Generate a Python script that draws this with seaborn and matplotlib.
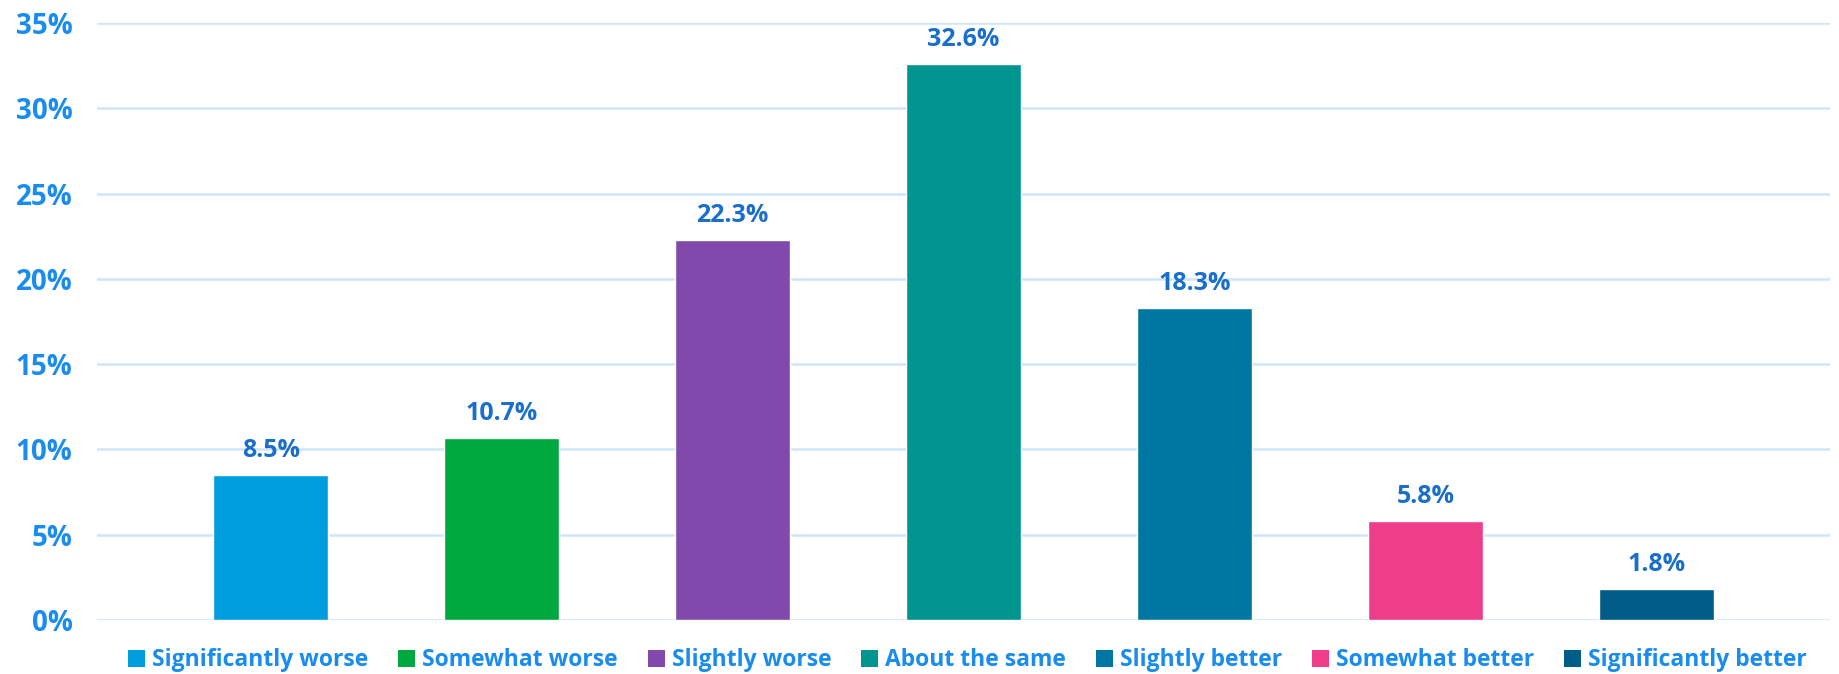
import matplotlib
matplotlib.use("Agg")
import matplotlib.pyplot as plt
import seaborn as sns
import pandas as pd
from matplotlib.patches import Patch

categories = ["Significantly worse", "Somewhat worse", "Slightly worse", "About the same",
              "Slightly better", "Somewhat better", "Significantly better"]
values = [8.5, 10.7, 22.3, 32.6, 18.3, 5.8, 1.8]
colors = ["#009ddf", "#00a940", "#8149ab", "#00968f", "#0077a3", "#ee3e8a", "#005d87"]
yticks = [0, 5, 10, 15, 20, 25, 30, 35]
ytick_labels = ["0%", "5%", "10%", "15%", "20%", "25%", "30%", "35%"]

sns.set_theme(style="white")
plt.rcParams['font.family'] = ['Open Sans', 'DejaVu Sans']

df = pd.DataFrame({"cat": categories, "val": values})

fig = plt.figure(figsize=(18.39, 6.74), dpi=100)
ax = fig.add_axes([0.0530, 0.080, 0.9420, 0.886])

sns.barplot(data=df, x="cat", y="val", hue="cat", palette=colors, order=categories,
            hue_order=categories, width=0.5, dodge=False, legend=False, ax=ax,
            saturation=1)

ax.set_xlim(-0.75, 6.75)
ax.set_ylim(0, 35)
ax.set_yticks(yticks)
ax.set_yticklabels(ytick_labels)
ax.set_xticks([])
ax.set_xlabel("")
ax.set_ylabel("")
ax.yaxis.grid(True, color="#cfe6fa", linewidth=1.8)
ax.set_axisbelow(True)
for s in ax.spines.values():
    s.set_visible(False)
ax.tick_params(axis='y', length=0, pad=18, labelsize=20, labelcolor="#1a8cf0")
for t in ax.get_yticklabels():
    t.set_fontweight('bold')

for i, v in enumerate(values):
    ax.text(i, v + 0.7, f"{v:.1f}%", ha="center", va="bottom", fontsize=18,
            fontweight="bold", color="#1a6fcc")

handles = [Patch(facecolor=c, edgecolor='none') for c in colors]
fig.legend(handles, categories, loc="lower center", bbox_to_anchor=(0.526, -0.028), ncol=7,
           frameon=False, handlelength=0.75, handleheight=0.75, handletextpad=0.3,
           columnspacing=1.3,
           prop={'family': 'Open Sans', 'weight': 'bold', 'size': 16.5},
           labelcolor="#1a8cf0")

fig.savefig("out.png", dpi=100)
